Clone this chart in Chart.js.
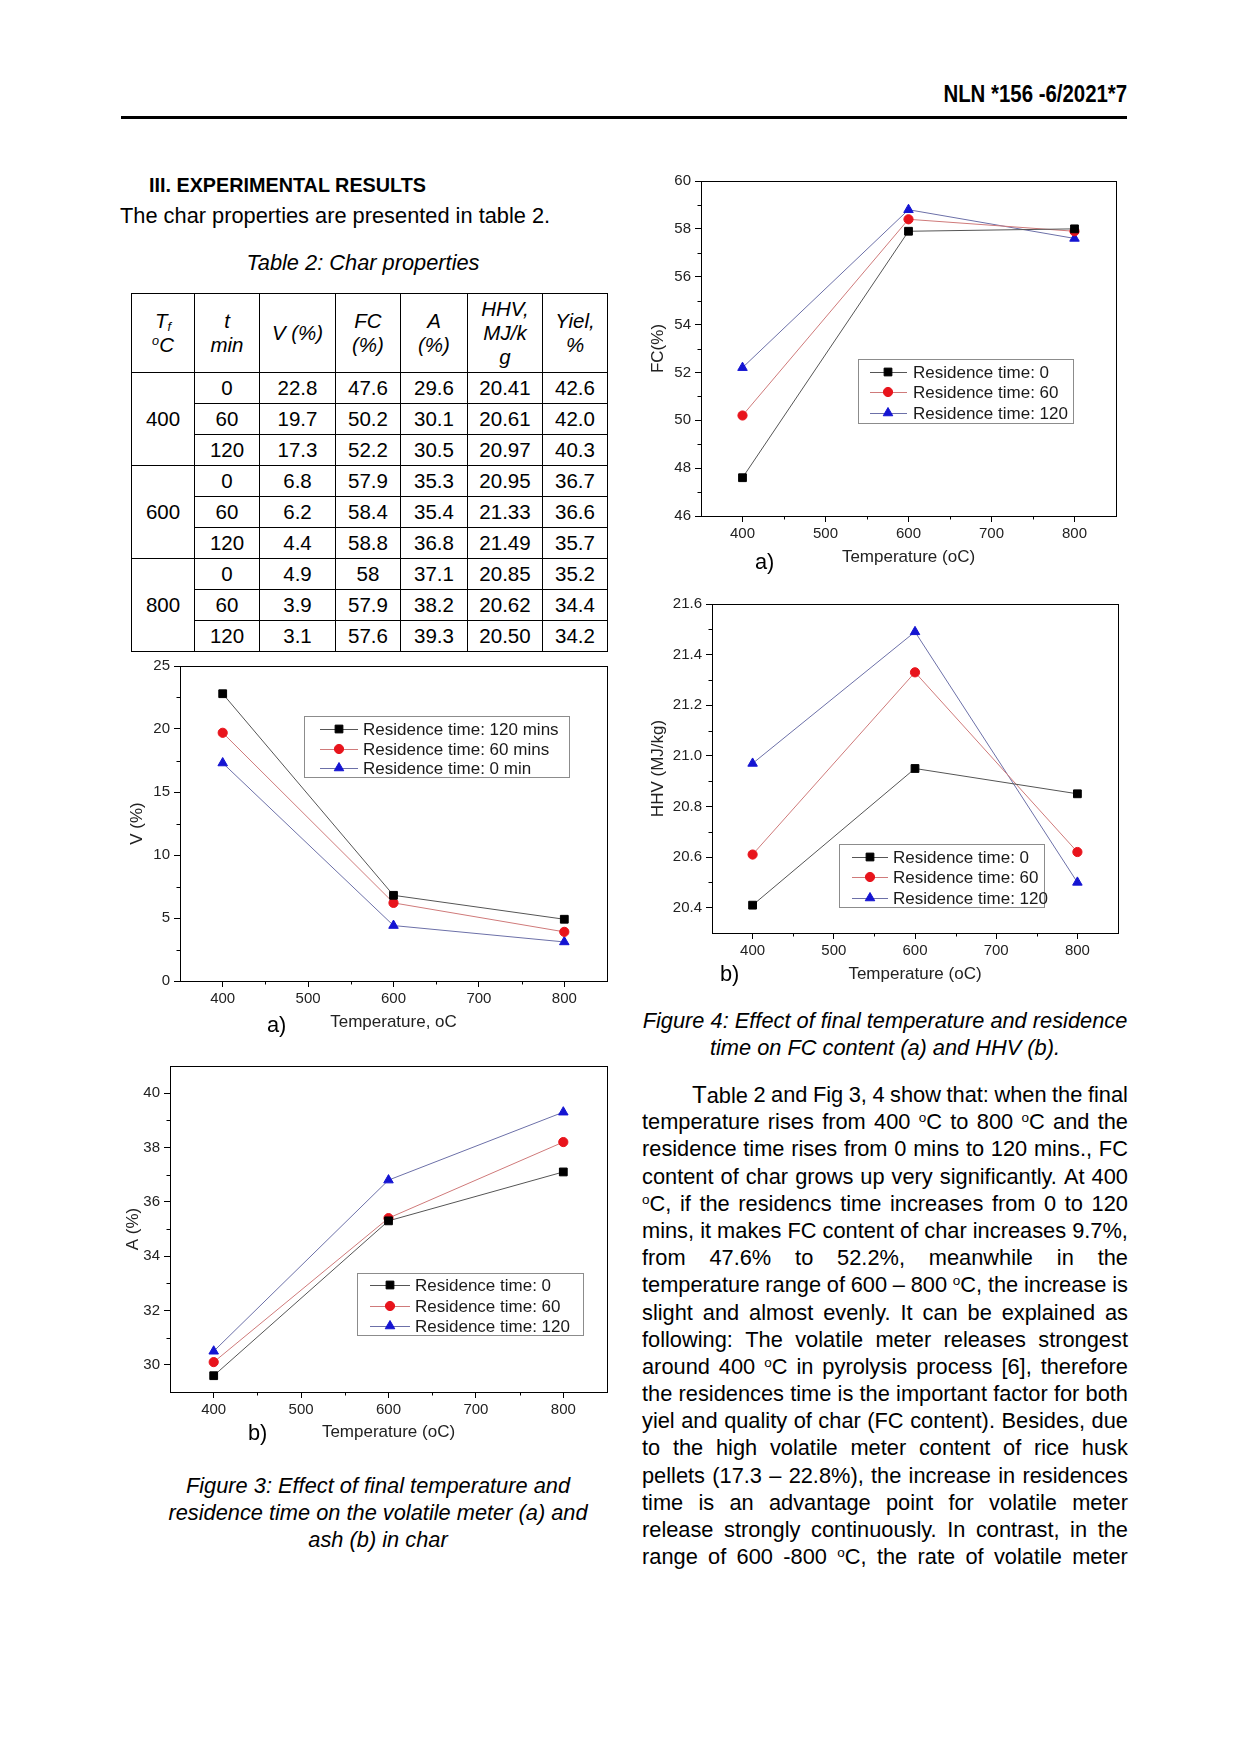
<!DOCTYPE html>
<html lang="en">
<head>
<meta charset="UTF-8">
<title>Char properties - Fig. 3 and Fig. 4</title>
<script src="https://cdn.jsdelivr.net/npm/chart.js@4.4.1/dist/chart.umd.min.js"></script>
<style>
  html, body { margin: 0; padding: 0; background: #fff; }
  body { position: relative; width: 1240px; height: 1753px; overflow: hidden;
         font-family: "Liberation Sans", Arial, sans-serif; color: #000; }
  .t { position: absolute; white-space: nowrap; font-size: 21.8px; line-height: 26px; }
  .it { font-style: italic; }
  sup { font-size: 0.62em; line-height: 0; vertical-align: 0.55em; }
  sub { font-size: 0.62em; line-height: 0; vertical-align: -0.2em; }
  canvas { position: absolute; }
  #tbl { position: absolute; left: 131px; top: 293px; width: 476px; border-collapse: collapse;
         table-layout: fixed; font-size: 20.5px; }
  #tbl td { border: 1.5px solid #000; text-align: center; padding: 0; height: 30px; line-height: 24px; }
  #tbl tr.hd td { font-style: italic; height: 78px; }
  .para { position: absolute; left: 642px; top: 1081px; width: 486px; font-size: 21.8px; line-height: 27.2px; }
  .para .ln { display: flex; justify-content: space-between; height: 27.2px; white-space: nowrap; }
  .para .ln span { flex: 0 0 auto; }
  .para big { font-size: 24px; }
</style>
</head>
<body>

<div class="t" style="right:113px; top:81px; font-size:24px; font-weight:bold; transform:scaleX(0.85); transform-origin:right center;">NLN *156 -6/2021*7</div>
<div style="position:absolute; left:121px; top:116px; width:1006px; height:3px; background:#000;"></div>

<div class="t" style="left:149px; top:172px; font-size:19.8px; font-weight:bold;">III. EXPERIMENTAL RESULTS</div>
<div class="t" style="left:120px; top:203px;">The char properties are presented in table 2.</div>
<div class="t it" style="left:163px; top:250px; width:400px; text-align:center;">Table 2: Char properties</div>

<table id="tbl">
  <colgroup>
    <col style="width:63px"><col style="width:65px"><col style="width:76px"><col style="width:65px">
    <col style="width:67px"><col style="width:75px"><col style="width:65px">
  </colgroup>
  <tr class="hd"><td>T<sub>f</sub><br><sup>o</sup>C</td><td>t<br>min</td><td>V (%)</td><td>FC<br>(%)</td><td>A<br>(%)</td><td>HHV,<br>MJ/k<br>g</td><td>Yiel,<br>%</td></tr>
  <tr><td rowspan="3">400</td><td>0</td><td>22.8</td><td>47.6</td><td>29.6</td><td>20.41</td><td>42.6</td></tr>
  <tr><td>60</td><td>19.7</td><td>50.2</td><td>30.1</td><td>20.61</td><td>42.0</td></tr>
  <tr><td>120</td><td>17.3</td><td>52.2</td><td>30.5</td><td>20.97</td><td>40.3</td></tr>
  <tr><td rowspan="3">600</td><td>0</td><td>6.8</td><td>57.9</td><td>35.3</td><td>20.95</td><td>36.7</td></tr>
  <tr><td>60</td><td>6.2</td><td>58.4</td><td>35.4</td><td>21.33</td><td>36.6</td></tr>
  <tr><td>120</td><td>4.4</td><td>58.8</td><td>36.8</td><td>21.49</td><td>35.7</td></tr>
  <tr><td rowspan="3">800</td><td>0</td><td>4.9</td><td>58</td><td>37.1</td><td>20.85</td><td>35.2</td></tr>
  <tr><td>60</td><td>3.9</td><td>57.9</td><td>38.2</td><td>20.62</td><td>34.4</td></tr>
  <tr><td>120</td><td>3.1</td><td>57.6</td><td>39.3</td><td>20.50</td><td>34.2</td></tr>
</table>

<canvas id="cFC" width="485" height="403" style="left:641px; top:168px;"></canvas>
<canvas id="cHHV" width="486" height="397" style="left:642px; top:591px;"></canvas>
<canvas id="cV" width="497" height="383" style="left:120px; top:653px;"></canvas>
<canvas id="cA" width="507" height="393" style="left:110px; top:1053px;"></canvas>

<div class="t" style="left:755px; top:549px;">a)</div>
<div class="t" style="left:720px; top:961px;">b)</div>
<div class="t" style="left:267px; top:1012px;">a)</div>
<div class="t" style="left:248px; top:1420px;">b)</div>

<div class="t it" style="left:128px; top:1472px; width:500px; text-align:center; line-height:27px;">Figure 3: Effect of final temperature and<br>residence time on the volatile meter (a) and<br>ash (b) in char</div>

<div class="t it" style="left:642px; top:1008px; width:486px; text-align:center; line-height:26.7px;">Figure 4: Effect of final temperature and residence<br>time on FC content (a) and HHV (b).</div>

<div class="para">
  <div class="ln" style="padding-left:50px;"><big>T</big>able 2 and Fig 3, 4 show that: when the final</div>
  <div class="ln">temperature rises from 400 <sup>o</sup>C to 800 <sup>o</sup>C and the</div>
  <div class="ln">residence time rises from 0 mins to 120 mins., FC</div>
  <div class="ln">content of char grows up very significantly. At 400</div>
  <div class="ln"><sup>o</sup>C, if the residencs time increases from 0 to 120</div>
  <div class="ln">mins, it makes FC content of char increases 9.7%,</div>
  <div class="ln">from 47.6% to 52.2%, meanwhile in the</div>
  <div class="ln">temperature range of 600 – 800 <sup>o</sup>C, the increase is</div>
  <div class="ln">slight and almost evenly. It can be explained as</div>
  <div class="ln">following: The volatile meter releases strongest</div>
  <div class="ln">around 400 <sup>o</sup>C in pyrolysis process [6], therefore</div>
  <div class="ln">the residences time is the important factor for both</div>
  <div class="ln">yiel and quality of char (FC content). Besides, due</div>
  <div class="ln">to the high volatile meter content of rice husk</div>
  <div class="ln">pellets (17.3 – 22.8%), the increase in residences</div>
  <div class="ln">time is an advantage point for volatile meter</div>
  <div class="ln">release strongly continuously. In contrast, in the</div>
  <div class="ln">range of 600 -800 <sup>o</sup>C, the rate of volatile meter</div>
</div>

<script>
// x positions shared by every plot
const temps = [400, 600, 800];
const xTicks = [400, 500, 600, 700, 800];

// Fig 3a: volatile meter
const vLabels = ['Residence time: 120 mins', 'Residence time: 60 mins', 'Residence time: 0 min'];
const vBlack = [22.8, 6.8, 4.9];
const vRed = [19.7, 6.2, 3.9];
const vBlue = [17.3, 4.4, 3.1];
const vTicks = [0, 5, 10, 15, 20, 25];

// the other three plots share this legend text
const resLabels = ['Residence time: 0', 'Residence time: 60', 'Residence time: 120'];

// Fig 3b: ash
const aBlack = [29.6, 35.3, 37.1];
const aRed = [30.1, 35.4, 38.2];
const aBlue = [30.5, 36.8, 39.3];
const aTicks = [30, 32, 34, 36, 38, 40];

// Fig 4a: fixed carbon
const fcBlack = [47.6, 57.9, 58.0];
const fcRed = [50.2, 58.4, 57.9];
const fcBlue = [52.2, 58.8, 57.6];
const fcTicks = [46, 48, 50, 52, 54, 56, 58, 60];

// Fig 4b: HHV
const hhvBlack = [20.41, 20.95, 20.85];
const hhvRed = [20.61, 21.33, 20.62];
const hhvBlue = [20.97, 21.49, 20.50];
const hhvTicks = [20.4, 20.6, 20.8, 21.0, 21.2, 21.4, 21.6];

// split justified lines into words so each line spreads across the column
document.querySelectorAll('.ln').forEach(el => {
  el.innerHTML = el.innerHTML.trim().split(/\s+/).map(w => '<span>' + w + '</span>').join('');
});

Chart.defaults.font.family = "'Liberation Sans', Arial, sans-serif";
Chart.defaults.color = '#222';

const styles = [
  { point: 'rect', radius: 5.5, mark: '#000000', line: '#555555' },
  { point: 'circle', radius: 4.6, mark: '#e8141c', line: '#cf7a7a' },
  { point: 'triangle', radius: 5.5, mark: '#1414d2', line: '#6c70a8' }
];

const mids = list => list.slice(1).map((v, i) => (v + list[i]) / 2);

// boxed legend drawn inside the plot, like the Origin figures
const boxLegend = {
  id: 'boxLegend',
  afterDatasetsDraw(chart, args, o) {
    const ctx = chart.ctx;
    ctx.save();
    ctx.fillStyle = '#fff';
    ctx.fillRect(o.x, o.y, o.w, o.h);
    ctx.strokeStyle = '#8c8c8c';
    ctx.lineWidth = 1;
    ctx.strokeRect(o.x + 0.5, o.y + 0.5, o.w, o.h);
    ctx.font = "17px 'Liberation Sans', Arial, sans-serif";
    ctx.textBaseline = 'middle';
    chart.data.datasets.forEach((ds, i) => {
      const y = o.y + o.rows[i];
      ctx.strokeStyle = ds.borderColor;
      ctx.lineWidth = 1;
      ctx.beginPath();
      ctx.moveTo(o.x + o.line[0], y + 0.5);
      ctx.lineTo(o.x + o.line[1], y + 0.5);
      ctx.stroke();
      ctx.fillStyle = ds.pointBackgroundColor;
      ctx.strokeStyle = ds.pointBorderColor;
      Chart.helpers.drawPoint(ctx, { pointStyle: ds.pointStyle, radius: ds.pointRadius, borderWidth: 1, rotation: 0 }, o.x + o.mark, y);
      ctx.fillStyle = '#1a1a1a';
      ctx.fillText(ds.label, o.x + o.text, y + 1);
    });
    ctx.restore();
  }
};

// short unlabeled ticks halfway between the major ones
const minorTicks = {
  id: 'minorTicks',
  afterDraw(chart, args, o) {
    const { ctx, chartArea: a } = chart;
    const xs = chart.scales.x, ys = chart.scales.y;
    ctx.save();
    ctx.strokeStyle = '#000';
    ctx.lineWidth = 1;
    ctx.beginPath();
    mids(xTicks).forEach(v => {
      const px = Math.round(xs.getPixelForValue(v)) + 0.5;
      ctx.moveTo(px, a.bottom);
      ctx.lineTo(px, a.bottom + 3.5);
    });
    mids(o.y).forEach(v => {
      const py = Math.round(ys.getPixelForValue(v)) + 0.5;
      ctx.moveTo(a.left, py);
      ctx.lineTo(a.left - 3.5, py);
    });
    ctx.stroke();
    ctx.restore();
  }
};

function frameAxis(pos, size) {
  return {
    type: 'linear', position: pos,
    ticks: { display: false },
    grid: { display: false, drawTicks: false },
    border: { display: true, color: '#000', width: 1 },
    afterFit: s => { if (pos === 'top') s.height = size; else s.width = size; }
  };
}

function makeChart(id, c) {
  const datasets = c.series.map((vals, i) => ({
    label: c.labels[i],
    data: temps.map((t, j) => ({ x: t, y: vals[j] })),
    xAxisID: 'x', yAxisID: 'y',
    borderColor: styles[i].line, borderWidth: 1,
    pointStyle: styles[i].point, pointRadius: styles[i].radius,
    pointBackgroundColor: styles[i].mark, pointBorderColor: styles[i].mark, pointBorderWidth: 1,
    tension: 0, fill: false
  }));
  return new Chart(document.getElementById(id), {
    type: 'line',
    data: { datasets },
    options: {
      responsive: false,
      animation: false,
      events: [],
      layout: { padding: 0 },
      plugins: {
        legend: { display: false }, tooltip: { enabled: false },
        boxLegend: c.legend, minorTicks: { y: c.yTicks }
      },
      scales: {
        x: {
          type: 'linear', position: 'bottom', min: 350, max: 850,
          afterBuildTicks: s => { s.ticks = xTicks.map(v => ({ value: v })); },
          ticks: { autoSkip: false, maxRotation: 0, padding: 3, font: { size: 15 }, color: '#222' },
          grid: { drawOnChartArea: false, drawTicks: true, tickLength: 6, color: '#000' },
          border: { display: true, color: '#000', width: 1 },
          title: { display: true, text: c.xTitle, font: { size: 17 }, color: '#222', padding: { top: 0, bottom: 3 } },
          afterFit: s => { s.height = c.xh; }
        },
        x2: frameAxis('top', 10),
        y: {
          type: 'linear', position: 'left', min: c.yMin, max: c.yMax,
          afterBuildTicks: s => { s.ticks = c.yTicks.map(v => ({ value: v })); },
          ticks: { autoSkip: false, padding: 4, font: { size: 15 }, color: '#222',
                   callback: v => v.toFixed(c.yDec) },
          grid: { drawOnChartArea: false, drawTicks: true, tickLength: 6, color: '#000' },
          border: { display: true, color: '#000', width: 1 },
          title: { display: true, text: c.yTitle, font: { size: 17 }, color: '#222', padding: { top: c.yPad, bottom: 0 } },
          afterFit: s => { s.width = c.yw; }
        },
        y2: frameAxis('right', 10)
      }
    },
    plugins: [boxLegend, minorTicks]
  });
}

makeChart('cV', {
  series: [vBlack, vRed, vBlue], labels: vLabels,
  yMin: 0, yMax: 25, yTicks: vTicks, yDec: 0,
  yTitle: 'V (%)', xTitle: 'Temperature, oC', yw: 60, yPad: 7, xh: 55,
  legend: { x: 184, y: 63, w: 265, h: 61, rows: [13, 33, 52], line: [16, 54], mark: 35, text: 59 }
});

makeChart('cA', {
  series: [aBlack, aRed, aBlue], labels: resLabels,
  yMin: 29, yMax: 41, yTicks: aTicks, yDec: 0,
  yTitle: 'A (%)', xTitle: 'Temperature (oC)', yw: 60, yPad: 13, xh: 54,
  legend: { x: 247, y: 220, w: 226, h: 62, rows: [12, 33, 53], line: [13, 53], mark: 33, text: 58 }
});

makeChart('cFC', {
  series: [fcBlack, fcRed, fcBlue], labels: resLabels,
  yMin: 46, yMax: 60, yTicks: fcTicks, yDec: 0,
  yTitle: 'FC(%)', xTitle: 'Temperature (oC)', yw: 60, yPad: 7, xh: 55,
  legend: { x: 217, y: 191, w: 215, h: 64, rows: [13, 33, 54], line: [12, 49], mark: 30, text: 55 }
});

makeChart('cHHV', {
  series: [hhvBlack, hhvRed, hhvBlue], labels: resLabels,
  yMin: 20.3, yMax: 21.6, yTicks: hhvTicks, yDec: 1,
  yTitle: 'HHV (MJ/kg)', xTitle: 'Temperature (oC)', yw: 70, yPad: 6, xh: 55,
  legend: { x: 197, y: 253, w: 205, h: 63, rows: [13, 33, 54], line: [13, 49], mark: 31, text: 54 }
});
</script>
</body>
</html>
